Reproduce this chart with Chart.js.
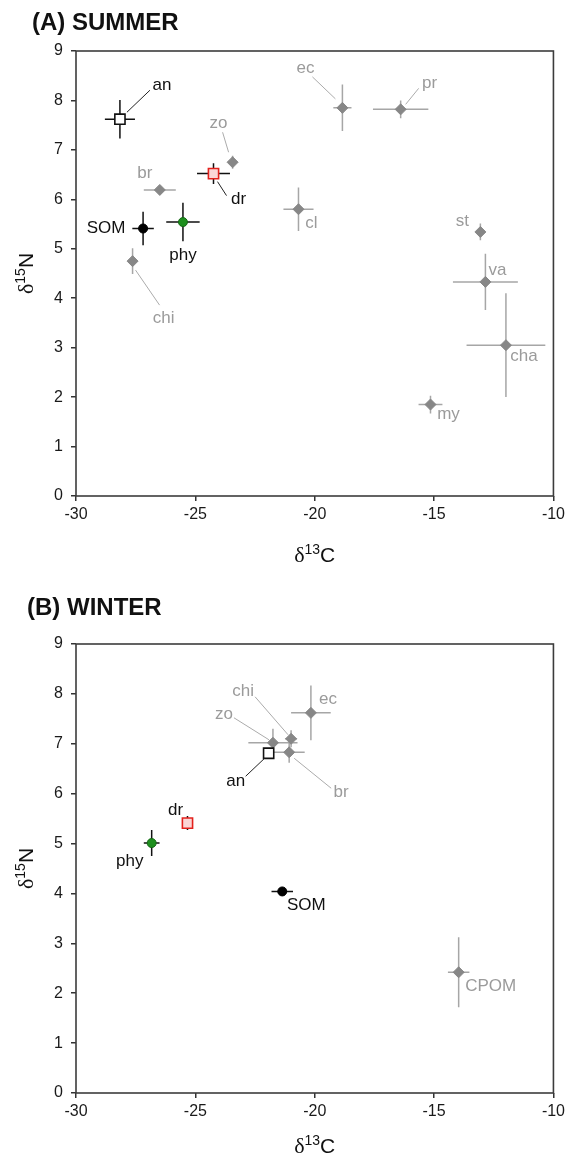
<!DOCTYPE html>
<html>
<head>
<meta charset="utf-8">
<script src="https://cdn.jsdelivr.net/npm/chart.js@4.4.0/dist/chart.umd.min.js"></script>
<style>
body { margin: 0; background: #fff; }
canvas { display: block; }
</style>
</head>
<body>
<canvas id="summerChart" width="569" height="575"></canvas>
<canvas id="winterChart" width="569" height="582"></canvas>
<script>
// Datos: verano
const summerNames = ['an', 'dr', 'SOM', 'phy', 'br', 'zo', 'chi', 'ec', 'pr', 'cl', 'st', 'va', 'cha', 'my'];
const summerC = [-28.16, -24.24, -27.19, -25.52, -26.49, -23.44, -27.63, -18.84, -16.40, -20.68, -13.06, -12.85, -11.99, -15.15];
const summerN = [7.62, 6.52, 5.41, 5.54, 6.19, 6.75, 4.75, 7.85, 7.82, 5.80, 5.34, 4.33, 3.05, 1.85];
const summerCsd = [0.63, 0.69, 0.45, 0.70, 0.67, 0.20, 0.17, 0.38, 1.16, 0.63, 0.10, 1.36, 1.65, 0.50];
const summerNsd = [0.39, 0.21, 0.34, 0.39, 0.06, 0.13, 0.26, 0.47, 0.18, 0.44, 0.17, 0.57, 1.05, 0.18];

// Datos: invierno
const winterNames = ['zo', 'chi', 'br', 'ec', 'an', 'dr', 'phy', 'SOM', 'CPOM'];
const winterC = [-21.75, -20.99, -21.07, -20.16, -21.93, -25.33, -26.83, -21.36, -13.97];
const winterN = [7.02, 7.10, 6.83, 7.62, 6.81, 5.41, 5.01, 4.04, 2.42];
const winterCsd = [1.03, 0.25, 0.65, 0.83, 0.15, 0.12, 0.33, 0.45, 0.45];
const winterNsd = [0.28, 0.17, 0.21, 0.55, 0.07, 0.14, 0.26, 0.04, 0.70];

// Ejes
const xTicks = [-30, -25, -20, -15, -10];
const yTicks = [0, 1, 2, 3, 4, 5, 6, 7, 8, 9];

const SANS = '"Liberation Sans", Arial, sans-serif';
const SERIF = '"Liberation Serif", "Times New Roman", serif';
const GRAY_LABEL = '#9b9b9b';

// Estilos de marcador por grupo
const markerStyles = {
    an:  { pointStyle: 'rect', radius: 7.2, bg: '#ffffff', border: '#111111', bar: '#111111', label: '#111111' },
    dr:  { pointStyle: 'rect', radius: 7.2, bg: '#fbd6d6', border: '#e3211c', bar: '#111111', label: '#111111' },
    SOM: { pointStyle: 'circle', radius: 4.5, bg: '#000000', border: '#000000', bar: '#111111', label: '#111111' },
    phy: { pointStyle: 'circle', radius: 4.5, bg: '#1e8f1e', border: '#146814', bar: '#111111', label: '#111111' },
    other: { pointStyle: 'rectRot', radius: 5.5, bg: '#878787', border: '#878787', bar: '#a6a6a6', label: GRAY_LABEL }
};

function styleFor(name) {
    return markerStyles[name] || markerStyles.other;
}

// Posición de etiquetas (desplazamiento en px respecto al punto) y líneas guía
const summerLabelPos = {
    an:  { dx: 42, dy: -34, leader: [7, -7, 30, -29] },
    zo:  { dx: -14, dy: -39, leader: [-4, -10, -10, -30] },
    dr:  { dx: 25, dy: 26, leader: [4, 8, 13, 22] },
    br:  { dx: -15, dy: -17 },
    SOM: { dx: -37, dy: 0 },
    phy: { dx: 0, dy: 33 },
    chi: { dx: 31, dy: 57, leader: [3, 9, 27, 44] },
    ec:  { dx: -37, dy: -40, leader: [-30, -31, -7, -9] },
    pr:  { dx: 29, dy: -26, leader: [5, -5, 18, -21] },
    cl:  { dx: 13, dy: 14 },
    st:  { dx: -18, dy: -11 },
    va:  { dx: 12, dy: -12 },
    cha: { dx: 18, dy: 11 },
    my:  { dx: 18, dy: 10 }
};

const winterLabelPos = {
    zo:  { dx: -49, dy: -28, leader: [-39, -25, -4, -3] },
    chi: { dx: -48, dy: -47, leader: [-36, -42, -3, -4] },
    br:  { dx: 52, dy: 40, leader: [5, 6, 42, 36] },
    an:  { dx: -33, dy: 28, leader: [-23, 23, -4, 5] },
    ec:  { dx: 17, dy: -14 },
    dr:  { dx: -12, dy: -13 },
    phy: { dx: -22, dy: 18 },
    SOM: { dx: 24, dy: 14 },
    CPOM: { dx: 32, dy: 14 }
};

function drawIsoTitle(ctx, x, y, sup, letter, rotate) {
    const big = '21px ' + SANS;
    const delta = '22px ' + SERIF;
    const small = '14px ' + SANS;
    ctx.save();
    ctx.translate(x, y);
    if (rotate) ctx.rotate(-Math.PI / 2);
    ctx.fillStyle = '#111';
    ctx.textAlign = 'left';
    ctx.textBaseline = 'alphabetic';
    ctx.font = delta; const wD = ctx.measureText('\u03b4').width;
    ctx.font = small; const wS = ctx.measureText(sup).width;
    ctx.font = big; const wL = ctx.measureText(letter).width;
    let cx = -(wD + wS + wL) / 2;
    const base = 7.5;
    ctx.font = delta; ctx.fillText('\u03b4', cx, base); cx += wD;
    ctx.font = small; ctx.fillText(sup, cx, base - 8); cx += wS;
    ctx.font = big; ctx.fillText(letter, cx, base);
    ctx.restore();
}

const isotopePlugin = {
    id: 'isotope',
    beforeDatasetsDraw(chart, args, opts) {
        const ctx = chart.ctx;
        const xs = chart.scales.x, ys = chart.scales.y;
        const meta = chart.getDatasetMeta(0);
        ctx.save();
        // marco del gráfico
        const a = chart.chartArea;
        ctx.strokeStyle = '#3c3c3c';
        ctx.lineWidth = 1.6;
        ctx.strokeRect(a.left, a.top, a.right - a.left, a.bottom - a.top);
        // barras de error
        ctx.lineWidth = 1.5;
        opts.names.forEach((name, i) => {
            const pt = meta.data[i];
            const c = opts.c[i], n = opts.n[i];
            ctx.strokeStyle = styleFor(name).bar;
            ctx.beginPath();
            ctx.moveTo(xs.getPixelForValue(c - opts.cSd[i]), pt.y);
            ctx.lineTo(xs.getPixelForValue(c + opts.cSd[i]), pt.y);
            ctx.moveTo(pt.x, ys.getPixelForValue(n - opts.nSd[i]));
            ctx.lineTo(pt.x, ys.getPixelForValue(n + opts.nSd[i]));
            ctx.stroke();
        });
        ctx.restore();
    },
    afterDatasetsDraw(chart, args, opts) {
        const ctx = chart.ctx;
        const meta = chart.getDatasetMeta(0);
        ctx.save();
        ctx.font = '17px ' + SANS;
        ctx.textAlign = 'center';
        ctx.textBaseline = 'middle';
        opts.names.forEach((name, i) => {
            const pt = meta.data[i];
            const pos = opts.labels[name];
            if (!pos) return;
            const st = styleFor(name);
            if (pos.leader) {
                const l = pos.leader;
                ctx.strokeStyle = st.label === GRAY_LABEL ? '#ababab' : '#222';
                ctx.lineWidth = 1;
                ctx.beginPath();
                ctx.moveTo(pt.x + l[0], pt.y + l[1]);
                ctx.lineTo(pt.x + l[2], pt.y + l[3]);
                ctx.stroke();
            }
            ctx.fillStyle = st.label;
            ctx.fillText(name, pt.x + pos.dx, pt.y + pos.dy);
        });
        ctx.restore();
    },
    afterDraw(chart, args, opts) {
        const ctx = chart.ctx;
        const a = chart.chartArea;
        ctx.save();
        ctx.fillStyle = '#111';
        ctx.font = 'bold 24px ' + SANS;
        ctx.textAlign = 'left';
        ctx.textBaseline = 'middle';
        ctx.fillText(opts.title, opts.titleX, opts.titleY);
        ctx.restore();
        drawIsoTitle(ctx, (a.left + a.right) / 2, a.bottom + opts.xTitleGap, '13', 'C', false);
        drawIsoTitle(ctx, 25, (a.top + a.bottom) / 2, '15', 'N', true);
    }
};

function buildConfig(names, c, n, cSd, nSd, labels, title, titleX, titleY, padTop, padRight, xHeight, xTitleGap) {
    return {
        type: 'scatter',
        data: {
            datasets: [{
                data: names.map((nm, i) => ({ x: c[i], y: n[i] })),
                pointStyle: names.map(nm => styleFor(nm).pointStyle),
                pointRadius: names.map(nm => styleFor(nm).radius),
                pointHoverRadius: names.map(nm => styleFor(nm).radius),
                backgroundColor: names.map(nm => styleFor(nm).bg),
                borderColor: names.map(nm => styleFor(nm).border),
                borderWidth: names.map(nm => styleFor(nm).pointStyle === 'rect' ? 1.6 : 1)
            }]
        },
        options: {
            responsive: false,
            animation: false,
            events: [],
            layout: { padding: { top: padTop, right: padRight, left: 0, bottom: 0 } },
            plugins: {
                legend: { display: false },
                tooltip: { enabled: false },
                isotope: { names, c, n, cSd, nSd, labels, title, titleX, titleY, xTitleGap }
            },
            scales: {
                x: {
                    type: 'linear',
                    min: xTicks[0],
                    max: xTicks[xTicks.length - 1],
                    afterBuildTicks: s => { s.ticks = xTicks.map(v => ({ value: v })); },
                    afterFit: s => { s.height = xHeight; },
                    border: { display: false },
                    grid: { drawOnChartArea: false, drawTicks: true, tickLength: 5, color: '#333', lineWidth: 1.5 },
                    ticks: { color: '#1a1a1a', font: { size: 16, family: SANS }, padding: 4 }
                },
                y: {
                    type: 'linear',
                    min: yTicks[0],
                    max: yTicks[yTicks.length - 1],
                    afterBuildTicks: s => { s.ticks = yTicks.map(v => ({ value: v })); },
                    afterFit: s => { s.width = 76; },
                    border: { display: false },
                    grid: { drawOnChartArea: false, drawTicks: true, tickLength: 5, color: '#333', lineWidth: 1.5 },
                    ticks: { color: '#1a1a1a', font: { size: 16, family: SANS }, padding: 8 }
                }
            }
        },
        plugins: [isotopePlugin]
    };
}

document.addEventListener('DOMContentLoaded', function() {
    new Chart(document.getElementById('summerChart'),
        buildConfig(summerNames, summerC, summerN, summerCsd, summerNsd, summerLabelPos,
            '(A) SUMMER', 32, 23, 51, 14, 79, 58));
    new Chart(document.getElementById('winterChart'),
        buildConfig(winterNames, winterC, winterN, winterCsd, winterNsd, winterLabelPos,
            '(B) WINTER', 27, 33, 69, 12, 64, 52));
});
</script>
</body>
</html>
